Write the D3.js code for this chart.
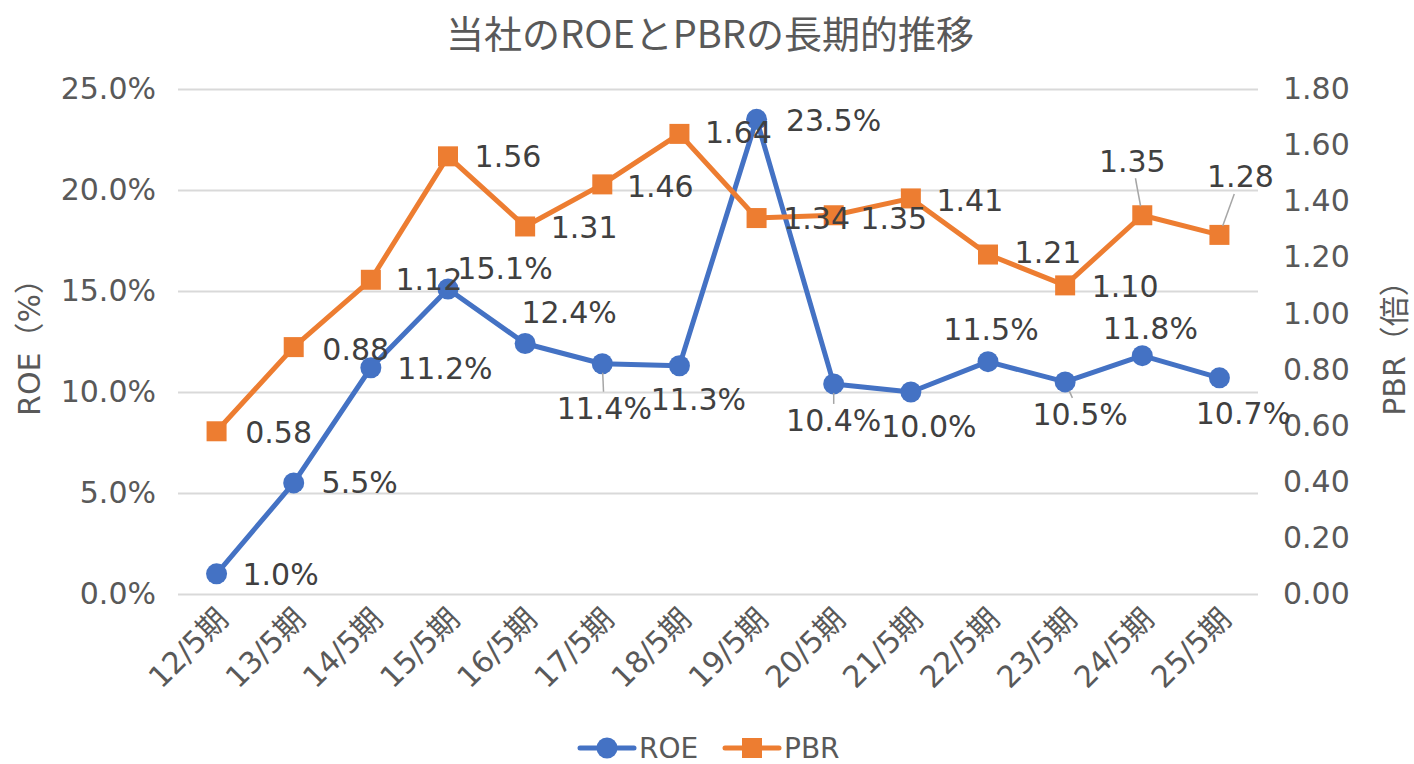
<!DOCTYPE html>
<html>
<head>
<meta charset="utf-8">
<script src="https://cdn.jsdelivr.net/npm/d3@7"></script>
<style>
  body { margin: 0; background: #fff; }
  svg text { fill: #595959; font-family: "DejaVu Sans", "Noto Sans CJK JP", sans-serif; }
</style>
</head>
<body>
<svg id="chart" width="1414" height="764"></svg>
<script>
// data
const periods = ["12/5期", "13/5期", "14/5期", "15/5期", "16/5期", "17/5期", "18/5期",
                 "19/5期", "20/5期", "21/5期", "22/5期", "23/5期", "24/5期", "25/5期"];
const roe = [1.0, 5.5, 11.2, 15.1, 12.4, 11.4, 11.3, 23.5, 10.4, 10.0, 11.5, 10.5, 11.8, 10.7];
const pbr = [0.58, 0.88, 1.12, 1.56, 1.31, 1.46, 1.64, 1.34, 1.35, 1.41, 1.21, 1.10, 1.35, 1.28];
const roeTicks = [0, 5, 10, 15, 20, 25];
const pbrTicks = [0, 0.2, 0.4, 0.6, 0.8, 1.0, 1.2, 1.4, 1.6, 1.8];

// label placement (offset of label centre from the point, leader line flag)
const roeLbl = [[64,1],[66,0],[74,1],[57,-20],[44,-31],[2,45,1],[19,34],[77,1],[0,37,1],[18,34],[3,-32],[15,33,1],[8,-27],[24,36]];
const pbrLbl = [[62,1],[62,2],[58,0],[60,0],[59,1],[58,2],[59,-1],[60,0],[60,3],[59,2],[60,-2],[60,1],[-10,-54,1],[21,-58,1]];

const svg = d3.select("#chart");
const plotL = 178, plotR = 1258, plotT = 89, plotB = 594;
const blue = "#4472C4", orange = "#ED7D31", grid = "#d9d9d9";

let xscale = d3.scalePoint(periods, [plotL, plotR]).padding(0.5);
let yl = d3.scaleLinear([0, 25], [plotB, plotT]);
let yr = d3.scaleLinear([0, 1.8], [plotB, plotT]);

// title
svg.append("text")
    .attr("x", 710).attr("y", 48)
    .attr("text-anchor", "middle")
    .style("font-family", "'Noto Sans CJK JP', sans-serif")
    .style("font-size", "38px")
    .text("当社のROEとPBRの長期的推移");

// gridlines + left ticks
let gl = svg.append("g")
    .attr("transform", "translate(" + plotL + ",0)")
    .call(d3.axisLeft(yl).tickValues(roeTicks).tickSize(-(plotR - plotL)).tickPadding(22)
        .tickFormat(d => d.toFixed(1) + "%"));
gl.select(".domain").remove();
gl.selectAll("line").attr("stroke", grid).attr("stroke-width", 2);
gl.selectAll("text").style("font-size", "30px");

let gr = svg.append("g")
    .attr("transform", "translate(" + plotR + ",0)")
    .call(d3.axisRight(yr).tickValues(pbrTicks).tickSize(0).tickPadding(25)
        .tickFormat(d => d.toFixed(2)));
gr.select(".domain").remove();
gr.selectAll("text").style("font-size", "30px");

// x axis labels
let gx = svg.append("g")
    .attr("transform", "translate(0," + plotB + ")")
    .call(d3.axisBottom(xscale).tickSize(0));
gx.select(".domain").remove();
gx.selectAll("text")
    .style("font-size", "30px")
    .attr("text-anchor", "end")
    .attr("dy", null)
    .attr("y", 0)
    .attr("transform", "translate(13,27) rotate(-45)");

// axis titles
svg.append("text")
    .attr("transform", "translate(40,340) rotate(-90)")
    .attr("text-anchor", "middle")
    .style("font-size", "30px")
    .text("ROE（%）");
svg.append("text")
    .attr("transform", "translate(1405,341) rotate(-90)")
    .attr("text-anchor", "middle")
    .style("font-size", "30px")
    .text("PBR（倍）");

// lines
let lineRoe = d3.line().x((d, i) => xscale(periods[i])).y(d => yl(d));
let linePbr = d3.line().x((d, i) => xscale(periods[i])).y(d => yr(d));

svg.append("path").datum(roe)
    .attr("d", lineRoe).attr("fill", "none")
    .attr("stroke", blue).attr("stroke-width", 5).attr("stroke-linejoin", "round");
svg.selectAll(".roeDot").data(roe).enter().append("circle")
    .attr("class", "roeDot")
    .attr("cx", (d, i) => xscale(periods[i])).attr("cy", d => yl(d))
    .attr("r", 10.5).attr("fill", blue);

svg.append("path").datum(pbr)
    .attr("d", linePbr).attr("fill", "none")
    .attr("stroke", orange).attr("stroke-width", 5).attr("stroke-linejoin", "round");
svg.selectAll(".pbrDot").data(pbr).enter().append("rect")
    .attr("class", "pbrDot")
    .attr("x", (d, i) => xscale(periods[i]) - 10).attr("y", d => yr(d) - 10)
    .attr("width", 20).attr("height", 20).attr("fill", orange);

// data labels
function drawLabels(vals, place, ys, fmt) {
    vals.forEach((v, i) => {
        const px = xscale(periods[i]), py = ys(v);
        const p = place[i];
        if (p[2]) {
            const t = (Math.abs(p[1]) - 17) / Math.abs(p[1]);
            const s = 9 / Math.abs(p[1]);
            svg.append("line")
                .attr("x1", px + p[0] * s).attr("y1", py + p[1] * s)
                .attr("x2", px + p[0] * t).attr("y2", py + p[1] * t)
                .attr("stroke", "#a6a6a6").attr("stroke-width", 1.5);
        }
        svg.append("text")
            .attr("x", px + p[0]).attr("y", py + p[1])
            .attr("text-anchor", "middle")
            .attr("dominant-baseline", "central")
            .style("font-size", "30px")
            .style("fill", "#404040")
            .text(fmt(v));
    });
}
drawLabels(roe, roeLbl, yl, v => v.toFixed(1) + "%");
drawLabels(pbr, pbrLbl, yr, v => v.toFixed(2));

// legend
let leg = svg.append("g").attr("transform", "translate(0,748)");
leg.append("line").attr("x1", 580).attr("x2", 634).attr("y1", 0).attr("y2", 0)
    .attr("stroke", blue).attr("stroke-width", 5).attr("stroke-linecap", "round");
leg.append("circle").attr("cx", 607).attr("cy", 0).attr("r", 10.5).attr("fill", blue);
leg.append("text").attr("x", 639).attr("y", 0).attr("dominant-baseline", "central")
    .style("font-size", "28px").text("ROE");
leg.append("line").attr("x1", 725).attr("x2", 779).attr("y1", 0).attr("y2", 0)
    .attr("stroke", orange).attr("stroke-width", 5).attr("stroke-linecap", "round");
leg.append("rect").attr("x", 742).attr("y", -10).attr("width", 20).attr("height", 20).attr("fill", orange);
leg.append("text").attr("x", 784).attr("y", 0).attr("dominant-baseline", "central")
    .style("font-size", "28px").text("PBR");
</script>
</body>
</html>
